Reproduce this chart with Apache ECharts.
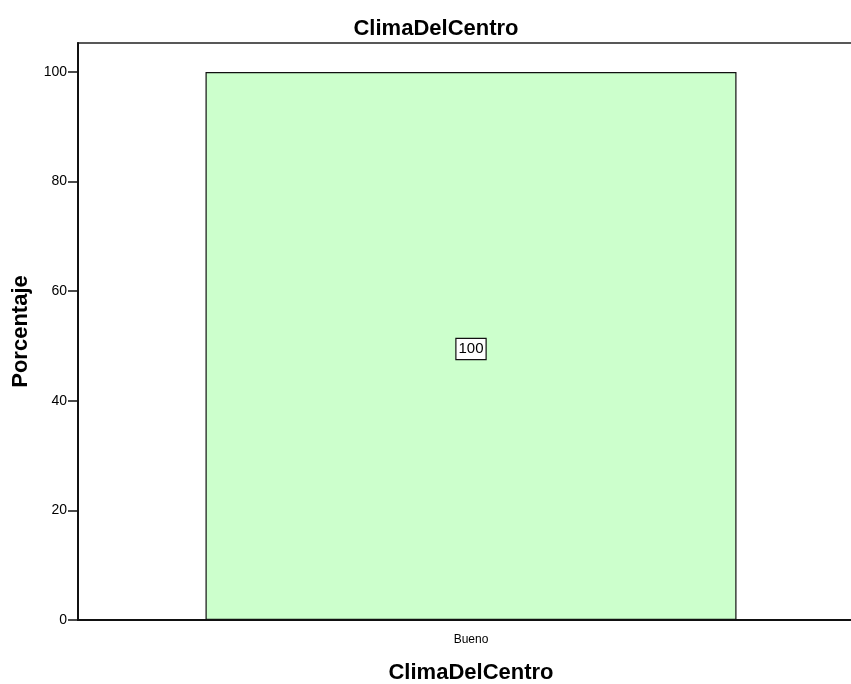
<!DOCTYPE html>
<html>
<head>
<meta charset="utf-8">
<script src="https://cdn.jsdelivr.net/npm/echarts@6/dist/echarts.min.js"></script>
<style>
  html, body { margin: 0; padding: 0; background: #fff; }
  #root { width: 851px; height: 684px; }
</style>
</head>
<body>
<div id="root"></div>
<script>
const categories = ['Bueno']
const percentages = [100]
const yTicks = [0, 20, 40, 60, 80, 100]

const chart = echarts.init(document.getElementById('root'))
const font = '"Liberation Sans", Arial, sans-serif'

chart.setOption({
  animation: false,
  title: {
    text: 'ClimaDelCentro',
    left: 431,
    textAlign: 'center',
    top: 13,
    textStyle: { fontFamily: font, fontSize: 22, fontWeight: 'bold', color: '#000' }
  },
  grid: {
    left: 78,
    top: 43,
    width: 786,
    bottom: 64,
    outerBoundsMode: 'none',
    containLabel: false,
    show: true,
    borderColor: '#222',
    borderWidth: 1.5,
    backgroundColor: '#fff'
  },
  xAxis: {
    type: 'category',
    data: categories,
    name: 'ClimaDelCentro',
    nameLocation: 'middle',
    nameGap: 42,
    nameTextStyle: { fontFamily: font, fontSize: 22, fontWeight: 'bold', color: '#000' },
    axisLine: { lineStyle: { color: '#111', width: 2 } },
    axisTick: { alignWithLabel: true, length: 9, lineStyle: { color: '#111', width: 2 } },
    axisLabel: { fontFamily: font, fontSize: 12, color: '#000', margin: 14 }
  },
  yAxis: {
    type: 'value',
    min: 0,
    max: 105.3,
    name: 'Porcentaje',
    nameLocation: 'middle',
    nameGap: 46,
    nameRotate: 90,
    nameTextStyle: { fontFamily: font, fontSize: 22, fontWeight: 'bold', color: '#000' },
    axisLine: { show: true, lineStyle: { color: '#111', width: 2 } },
    axisTick: { show: true, length: 10, customValues: yTicks, lineStyle: { color: '#111', width: 1.5 } },
    splitLine: { show: false },
    axisLabel: {
      fontFamily: font, fontSize: 14, color: '#000', margin: 11,
      customValues: yTicks
    }
  },
  series: [{
    type: 'bar',
    data: percentages,
    barWidth: 531,
    itemStyle: { color: '#ccffcc', borderColor: '#111', borderWidth: 1.2 },
    label: {
      show: true,
      position: 'inside',
      offset: [0, 3],
      fontFamily: font,
      fontSize: 15,
      color: '#000',
      backgroundColor: '#fff',
      borderColor: '#111',
      borderWidth: 1.2,
      padding: [3, 2, 2, 2]
    }
  }]
})
</script>
</body>
</html>
